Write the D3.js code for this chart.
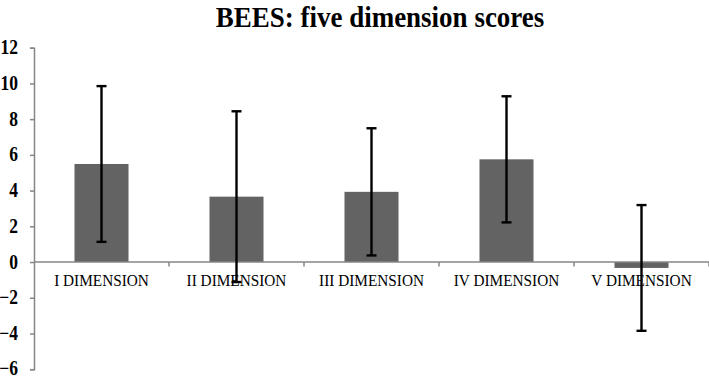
<!DOCTYPE html>
<html>
<head>
<meta charset="utf-8">
<script src="https://cdn.jsdelivr.net/npm/d3@7"></script>
<style>
  html, body { margin: 0; padding: 0; background: #ffffff; }
  svg { display: block; }
  text { font-family: "Liberation Serif", "Times New Roman", serif; fill: #000; }
</style>
</head>
<body>
<svg id="chart" width="709" height="376"></svg>
<script>
const categories = ["I DIMENSION", "II DIMENSION", "III DIMENSION", "IV DIMENSION", "V DIMENSION"];
const means = [5.49, 3.66, 3.93, 5.75, -0.33];
const errors = [4.36, 4.78, 3.56, 3.53, 3.52];
const yTicks = [-6, -4, -2, 0, 2, 4, 6, 8, 10, 12];
const title = "BEES: five dimension scores";

const svg = d3.select("#chart");
const margin = { left: 34, right: 0, top: 47.7, bottom: 6.8 };
const W = 709, H = 376;

const x = d3.scaleBand()
  .domain(categories)
  .range([margin.left, W - margin.right])
  .paddingInner(0.6)
  .paddingOuter(0.3);

const xOuter = d3.scaleBand()
  .domain(categories)
  .range([margin.left, W - margin.right]);

const y = d3.scaleLinear()
  .domain([-6, 12])
  .range([H - margin.bottom, margin.top]);

// title
svg.append("text")
  .attr("x", 0).attr("y", 0)
  .attr("text-anchor", "middle")
  .attr("font-weight", "bold")
  .attr("font-size", 27)
  .attr("transform", `translate(380,27) scale(1,1.12)`)
  .text(title);

// bars
svg.append("g").selectAll("rect")
  .data(categories)
  .join("rect")
  .attr("x", d => x(d))
  .attr("width", x.bandwidth())
  .attr("y", (d, i) => y(Math.max(0, means[i])))
  .attr("height", (d, i) => Math.abs(y(means[i]) - y(0)))
  .attr("fill", "#636363");

// y axis (line + ticks from d3 axis; labels drawn separately)
const yAxis = d3.axisLeft(y).tickValues(yTicks).tickSize(4).tickFormat("");
const gy = svg.append("g").attr("transform", `translate(${margin.left},0)`).call(yAxis);
gy.select(".domain").attr("stroke", "#868686").attr("stroke-width", 1.5);
gy.selectAll(".tick line").attr("stroke", "#868686").attr("stroke-width", 1.5);
gy.selectAll(".tick text").remove();

svg.append("g").selectAll("text")
  .data(yTicks)
  .join("text")
  .attr("text-anchor", "end")
  .attr("font-weight", "bold")
  .attr("font-size", 17.5)
  .attr("transform", d => `translate(18,${y(d) - (d === -6 ? 1 : 0)}) scale(1,1.14)`)
  .attr("dy", "0.33em")
  .text(d => d3.format("d")(d));

// x axis at zero
const xAxisLine = svg.append("g");
xAxisLine.append("line")
  .attr("x1", margin.left).attr("x2", W - margin.right)
  .attr("y1", y(0)).attr("y2", y(0))
  .attr("stroke", "#868686").attr("stroke-width", 1.5);
xAxisLine.selectAll("line.tk")
  .data(categories)
  .join("line")
  .attr("class", "tk")
  .attr("x1", d => xOuter(d) + xOuter.bandwidth())
  .attr("x2", d => xOuter(d) + xOuter.bandwidth())
  .attr("y1", y(0)).attr("y2", y(0) + 4.5)
  .attr("stroke", "#868686").attr("stroke-width", 1.5);

// category labels
svg.append("g").selectAll("text")
  .data(categories)
  .join("text")
  .attr("text-anchor", "middle")
  .attr("font-size", 15.3)
  .attr("transform", d => `translate(${x(d) + x.bandwidth() / 2},${y(0) + 24}) scale(1,1.1)`)
  .text(d => d);

// error bars
const eb = svg.append("g").attr("stroke", "#000").attr("stroke-width", 2.4);
categories.forEach((c, i) => {
  const cx = x(c) + x.bandwidth() / 2;
  const top = y(means[i] + errors[i]);
  const bot = y(means[i] - errors[i]);
  eb.append("line").attr("x1", cx).attr("x2", cx).attr("y1", top).attr("y2", bot);
  eb.append("line").attr("x1", cx - 5).attr("x2", cx + 5).attr("y1", top).attr("y2", top);
  eb.append("line").attr("x1", cx - 5).attr("x2", cx + 5).attr("y1", bot).attr("y2", bot);
});
</script>
</body>
</html>
